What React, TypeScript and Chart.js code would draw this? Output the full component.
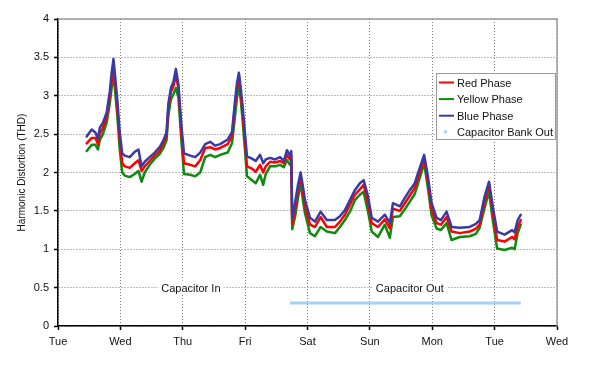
import { useEffect, useRef } from "react";
import { Chart, registerables } from "chart.js";

Chart.register(...registerables);

const dayLabels = ["Tue", "Wed", "Thu", "Fri", "Sat", "Sun", "Mon", "Tue", "Wed"];

// time in days since the first Tuesday 00:00
const times = [
  0.46, 0.54, 0.6, 0.64, 0.67, 0.72, 0.78, 0.83, 0.86, 0.89,
  0.91, 0.95, 0.99, 1.03, 1.07, 1.15, 1.23, 1.29, 1.34, 1.39,
  1.47, 1.55, 1.63, 1.69, 1.74, 1.77, 1.81, 1.85, 1.89, 1.93,
  1.98, 2.02, 2.12, 2.2, 2.28, 2.36, 2.44, 2.52, 2.6, 2.72,
  2.79, 2.84, 2.87, 2.9, 2.93, 2.96, 3.03, 3.11, 3.17, 3.24,
  3.29, 3.33, 3.4, 3.48, 3.56, 3.62, 3.67, 3.72, 3.74, 3.755,
  3.8, 3.85, 3.89, 3.93, 3.96, 4.04, 4.12, 4.21, 4.31, 4.44,
  4.52, 4.6, 4.68, 4.76, 4.84, 4.9, 4.97, 5.03, 5.13, 5.24,
  5.32, 5.37, 5.48, 5.56, 5.64, 5.72, 5.8, 5.87, 5.93, 5.99,
  6.07, 6.14, 6.23, 6.31, 6.44, 6.6, 6.7, 6.76, 6.84, 6.91,
  6.97, 7.04, 7.16, 7.28, 7.32, 7.37, 7.42,
];

const bluePhase = [
  2.47, 2.56, 2.52, 2.44, 2.58, 2.65, 2.78, 3.05, 3.3, 3.48,
  3.3, 2.95, 2.52, 2.25, 2.22, 2.2, 2.27, 2.3, 2.08, 2.14,
  2.2, 2.26, 2.33, 2.42, 2.52, 2.9, 3.1, 3.18, 3.35, 3.15,
  2.6, 2.25, 2.22, 2.2, 2.26, 2.37, 2.4, 2.35, 2.37, 2.43,
  2.53, 2.95, 3.17, 3.3, 3.1, 2.86, 2.21, 2.18, 2.15, 2.23,
  2.12, 2.17, 2.19, 2.17, 2.2, 2.15, 2.29, 2.22, 2.28, 1.41,
  1.6, 1.85, 2.0, 1.8, 1.64, 1.41, 1.36, 1.49, 1.38, 1.38,
  1.43, 1.51, 1.64, 1.77, 1.86, 1.9, 1.69, 1.41, 1.36, 1.45,
  1.34, 1.6, 1.56, 1.67, 1.77, 1.86, 2.06, 2.23, 1.95, 1.6,
  1.41, 1.38, 1.49, 1.29, 1.28, 1.29, 1.33, 1.38, 1.69, 1.88,
  1.56, 1.23, 1.19, 1.25, 1.22, 1.38, 1.45,
];

const redPhase = [
  2.38, 2.45, 2.45, 2.37, 2.5, 2.58, 2.72, 2.98, 3.2, 3.4,
  3.22, 2.85, 2.42, 2.12, 2.08, 2.06, 2.12, 2.16, 2.02, 2.08,
  2.15, 2.22, 2.28, 2.38, 2.48, 2.85, 3.05, 3.12, 3.27, 3.1,
  2.5, 2.12, 2.1, 2.08, 2.16, 2.32, 2.33, 2.3, 2.32, 2.37,
  2.47, 2.88, 3.1, 3.25, 3.02, 2.78, 2.08, 2.05, 2.01, 2.1,
  2.0, 2.08, 2.14, 2.13, 2.15, 2.12, 2.23, 2.17, 2.22, 1.33,
  1.52, 1.78, 1.95, 1.72, 1.56, 1.32, 1.29, 1.42, 1.29, 1.29,
  1.36, 1.45, 1.58, 1.71, 1.78, 1.84, 1.6, 1.34, 1.29, 1.39,
  1.27, 1.53, 1.5, 1.6, 1.7, 1.8, 2.0, 2.19, 1.88, 1.52,
  1.34, 1.32, 1.42, 1.23, 1.21, 1.23, 1.27, 1.32, 1.62, 1.84,
  1.47, 1.12, 1.1, 1.16, 1.13, 1.29, 1.38,
];

const yellowPhase = [
  2.28, 2.36, 2.36, 2.3, 2.42, 2.5, 2.65, 2.9, 3.1, 3.25,
  3.12, 2.75, 2.3, 2.0, 1.96, 1.94, 1.98, 2.02, 1.88, 2.0,
  2.1, 2.18, 2.24, 2.32, 2.42, 2.75, 2.95, 3.02, 3.1, 2.98,
  2.4, 1.98, 1.97, 1.95, 2.0, 2.2, 2.23, 2.2, 2.23, 2.26,
  2.38, 2.75, 2.98, 3.12, 2.95, 2.68, 1.95, 1.9, 1.86, 1.97,
  1.84, 1.98, 2.08, 2.08, 2.1, 2.07, 2.16, 2.1, 2.14, 1.26,
  1.42, 1.68, 1.86, 1.62, 1.47, 1.21, 1.17, 1.29, 1.23, 1.21,
  1.29, 1.38, 1.49, 1.64, 1.71, 1.75, 1.49, 1.23, 1.16, 1.32,
  1.15, 1.42, 1.43, 1.52, 1.62, 1.72, 1.93, 2.12, 1.8, 1.44,
  1.27, 1.25, 1.34, 1.12, 1.16, 1.17, 1.2, 1.28, 1.54, 1.75,
  1.38, 1.01, 0.99, 1.02, 1.0, 1.21, 1.32,
];

const capacitorOutTimes = [3.72, 7.42];
const capacitorOutValues = [0.3, 0.3];

const seriesNames = ["Red Phase", "Yellow Phase", "Blue Phase", "Capacitor Bank Out"];
const seriesColors = ["#ff0000", "#0e8a0e", "#3a3aa5", "#a6d2f6"];

const noteLabels = ["Capacitor In", "Capacitor Out"];
const noteX = [2.13, 5.64];
const noteY = [0.5, 0.5];

const FONT = "'Liberation Sans', Arial, sans-serif";

const overlayPlugin = {
  id: "overlay",
  afterDraw(chart: any) {
    const { ctx, chartArea, scales } = chart;
    ctx.save();
    // top and right frame
    ctx.strokeStyle = "#9a9a9a";
    ctx.lineWidth = 1.5;
    ctx.beginPath();
    ctx.moveTo(chartArea.left, chartArea.top);
    ctx.lineTo(chartArea.right, chartArea.top);
    ctx.lineTo(chartArea.right, chartArea.bottom);
    ctx.stroke();

    // annotations
    ctx.font = `11px ${FONT}`;
    ctx.textAlign = "center";
    ctx.textBaseline = "middle";
    noteLabels.forEach((t, i) => {
      const x = scales.x.getPixelForValue(noteX[i]);
      const y = scales.y.getPixelForValue(noteY[i]);
      const w = ctx.measureText(t).width;
      ctx.fillStyle = "#ffffff";
      ctx.fillRect(x - w / 2 - 3, y - 7, w + 6, 14);
      ctx.fillStyle = "#111";
      ctx.fillText(t, x, y + 1);
    });

    // legend box
    const lx = 436, ly = 73, lw = 119, lh = 66;
    ctx.fillStyle = "#ffffff";
    ctx.fillRect(lx, ly, lw, lh);
    ctx.strokeStyle = "#9a9a9a";
    ctx.lineWidth = 1;
    ctx.strokeRect(lx + 0.5, ly + 0.5, lw, lh);
    ctx.textAlign = "left";
    seriesNames.forEach((name, i) => {
      const cy = 82.5 + i * 16.6;
      if (i < 3) {
        ctx.strokeStyle = seriesColors[i];
        ctx.lineWidth = 2;
        ctx.beginPath();
        ctx.moveTo(439, cy);
        ctx.lineTo(454, cy);
        ctx.stroke();
      } else {
        ctx.fillStyle = seriesColors[i];
        ctx.fillRect(444, cy - 2, 3, 3);
      }
      ctx.fillStyle = "#111";
      ctx.fillText(name, 457, cy + 1);
    });
    ctx.restore();
  },
};

export default function App() {
  const ref = useRef<HTMLCanvasElement>(null);

  useEffect(() => {
    if (!ref.current) return;
    const mk = (vals: number[]) => times.map((t, i) => ({ x: t, y: vals[i] }));
    const lineStyle = {
      borderWidth: 2.5,
      pointRadius: 0,
      tension: 0,
      borderJoinStyle: "round",
      borderCapStyle: "round",
    };
    const chart = new Chart(ref.current, {
      type: "line",
      data: {
        datasets: [
          { label: seriesNames[2], data: mk(bluePhase), borderColor: seriesColors[2], ...lineStyle },
          { label: seriesNames[0], data: mk(redPhase), borderColor: seriesColors[0], ...lineStyle },
          { label: seriesNames[1], data: mk(yellowPhase), borderColor: seriesColors[1], ...lineStyle },
          {
            label: seriesNames[3],
            data: capacitorOutTimes.map((t, i) => ({ x: t, y: capacitorOutValues[i] })),
            borderColor: seriesColors[3],
            borderWidth: 3,
            pointRadius: 0,
            tension: 0,
          },
        ],
      },
      options: {
        animation: false,
        responsive: false,
        events: [],
        layout: { padding: { top: 19, right: 37, left: 0, bottom: 0 } },
        plugins: { legend: { display: false }, tooltip: { enabled: false } },
        scales: {
          x: {
            type: "linear",
            min: 0,
            max: 8,
            afterFit: (s: any) => {
              s.height = 41;
            },
            ticks: {
              stepSize: 1,
              autoSkip: false,
              maxRotation: 0,
              padding: 5,
              color: "#111",
              font: { family: FONT, size: 11 },
              callback: (v: any) => dayLabels[Math.round(Number(v))] ?? "",
            },
            grid: {
              color: "#7a7a7a",
              lineWidth: 1,
              drawTicks: true,
              tickLength: 4,
              tickColor: "#000",
              tickWidth: 1.5,
              tickBorderDash: [],
            },
            border: { display: true, color: "#000", width: 1.5, dash: [1, 2] },
          },
          y: {
            type: "linear",
            min: 0,
            max: 4,
            afterFit: (s: any) => {
              s.width = 58;
            },
            title: {
              display: true,
              text: "Harmonic Distortion (THD)",
              color: "#111",
              font: { family: FONT, size: 10 },
              padding: { top: 16, bottom: 0 },
            },
            ticks: {
              stepSize: 0.5,
              autoSkip: false,
              padding: 5,
              color: "#111",
              font: { family: FONT, size: 11 },
              callback: (v: any) => String(v),
            },
            grid: {
              color: "#7a7a7a",
              lineWidth: 1,
              drawTicks: true,
              tickLength: 4,
              tickColor: "#000",
              tickWidth: 1.5,
              tickBorderDash: [],
            },
            border: { display: true, color: "#000", width: 1.5, dash: [1, 2] },
          },
        },
      },
      plugins: [overlayPlugin],
    } as any);
    return () => chart.destroy();
  }, []);

  return (
    <div style={{ position: "fixed", left: 0, top: 0, width: 594, height: 367, background: "#fff" }}>
      <canvas ref={ref} width={594} height={367} style={{ display: "block", width: 594, height: 367 }} />
    </div>
  );
}
